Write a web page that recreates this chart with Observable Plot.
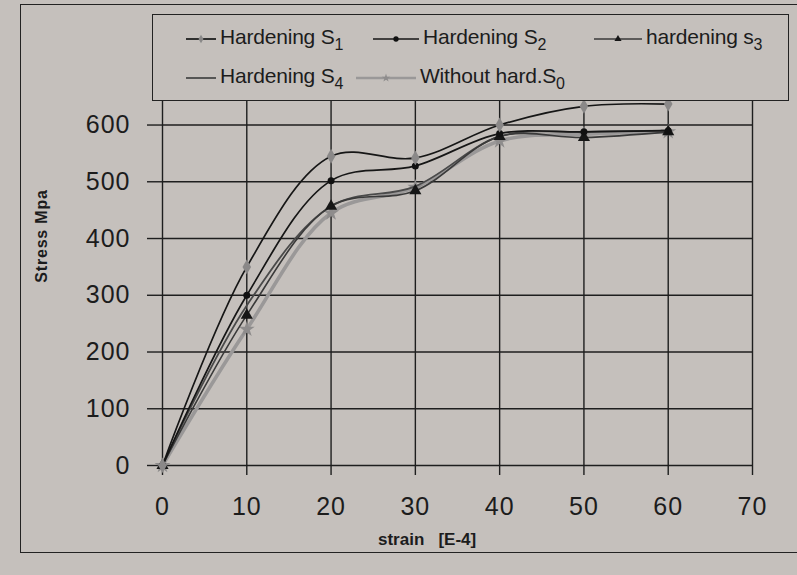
<!DOCTYPE html>
<html><head><meta charset="utf-8">
<script src="https://cdn.jsdelivr.net/npm/d3@7"></script>
<script src="https://cdn.jsdelivr.net/npm/@observablehq/plot@0.6"></script>
<style>
body{margin:0;background:#c5c0bc;}
#wrap{position:relative;width:797px;height:575px;overflow:hidden;background:#c5c0bc;font-family:"Liberation Sans",Arial,sans-serif;color:#1c1c1c}
#frame{position:absolute;left:20px;top:4px;width:800px;height:549px;border:1.5px solid #222;box-sizing:border-box}
#chart{position:absolute;left:0;top:0}
#legend{position:absolute;left:152px;top:14px;width:637px;height:87px;border:1.5px solid #222;box-sizing:border-box;background:#c5c0bc}
.item{position:absolute;height:26px;display:flex;align-items:center;font-size:21px;white-space:nowrap;letter-spacing:-0.2px}
.item svg{margin-right:4px}
.item sub{font-size:16px;vertical-align:-6px}
#ytitle{position:absolute;left:42px;top:236px;transform:translate(-50%,-50%) rotate(-90deg);font-weight:bold;font-size:16px;letter-spacing:0.8px;white-space:nowrap}
#xtitle{position:absolute;left:378px;top:530px;font-weight:bold;font-size:17px;white-space:pre}
</style></head>
<body>
<div id="wrap">
  <div id="frame"></div>
  <div id="chart"></div>
  <div id="legend"></div>
  <div id="ytitle">Stress Mpa</div>
  <div id="xtitle">strain   [E-4]</div>
</div>
<script>
// ---- data ----
const strain = [0, 10, 20, 30, 40, 50, 60];
const hardeningS1 = [0, 350, 545, 542, 600, 633, 637];
const hardeningS2 = [0, 300, 502, 528, 585, 588, 590];
const hardeningS3 = [0, 265, 457, 484, 580, 578, 588];
const hardeningS4 = [0, 282, 457, 492, 580, 588, 590];
const withoutS0   = [0, 240, 445, 490, 572, 584, 588];
const xTicks = [0, 10, 20, 30, 40, 50, 60, 70];
const yTicks = [0, 100, 200, 300, 400, 500, 600];

const seriesDefs = [
  {key: "S0", label: "Without hard.", sub: "0", values: withoutS0, stroke: "#9a9898", width: 3.6, symbol: "star", fill: "#8e8c8c", r: 5},
  {key: "S4", label: "Hardening ", sub: "4", values: hardeningS4, stroke: "#4a4a4a", width: 1.8, symbol: null, fill: null, r: 0},
  {key: "S3", label: "hardening ", sub: "3", values: hardeningS3, stroke: "#3a3a3a", width: 1.6, symbol: "triangle", fill: "#161616", r: 4.5},
  {key: "S2", label: "Hardening ", sub: "2", values: hardeningS2, stroke: "#161616", width: 1.7, symbol: "circle", fill: "#111", r: 3.5},
  {key: "S1", label: "Hardening ", sub: "1", values: hardeningS1, stroke: "#161616", width: 1.7, symbol: "diamond", fill: "#8a8888", r: 4.5}
];

const marks = [
  Plot.gridX(xTicks, {stroke: "#1e1e1e", strokeOpacity: 1, strokeWidth: 1.4}),
  Plot.gridY(yTicks, {stroke: "#1e1e1e", strokeOpacity: 1, strokeWidth: 1.4}),
  Plot.axisX(xTicks, {tickSize: 10, tickPadding: 22, label: null, stroke: "#1e1e1e", strokeWidth: 1.4}),
  Plot.axisY(yTicks, {tickSize: 15, tickPadding: 17, label: null, stroke: "#1e1e1e", strokeWidth: 1.4})
];
for (const s of seriesDefs) {
  const rows = strain.map((x, i) => ({x, y: s.values[i]}));
  marks.push(Plot.line(rows, {x: "x", y: "y", stroke: s.stroke, strokeWidth: s.width, curve: "catmull-rom"}));
  if (s.symbol) marks.push(Plot.dot(rows, {x: "x", y: "y", symbol: s.symbol, r: s.r, fill: s.fill, stroke: "none"}));
}

const chart = Plot.plot({
  width: 797,
  height: 575,
  marginLeft: 162,
  marginRight: 45,
  marginTop: 99,
  marginBottom: 110,
  x: {domain: [0, 70], ticks: xTicks},
  y: {domain: [0, 645], ticks: yTicks},
  style: {background: "transparent", fontFamily: "'Liberation Sans', Arial, sans-serif", fontSize: "25px", color: "#1c1c1c", letterSpacing: "1px"},
  marks
});
document.getElementById("chart").appendChild(chart);

// ---- legend ----
const legendLayout = {S1: [33, 11, 30], S2: [220, 11, 46], S3: [441, 11, 48], S4: [33, 50, 30], S0: [203, 50, 60]};
const legend = document.getElementById("legend");
for (const s of seriesDefs) {
  const [lx, ly, w] = legendLayout[s.key];
  const div = document.createElement("div");
  div.className = "item";
  div.style.left = lx + "px";
  div.style.top = ly + "px";
  const svg = d3.create("svg").attr("width", w).attr("height", 14);
  svg.append("line").attr("x1", 0).attr("x2", w).attr("y1", 7).attr("y2", 7)
    .attr("stroke", s.stroke).attr("stroke-width", Math.min(s.width, 2.4));
  if (s.symbol) {
    const sym = {circle: d3.symbolCircle, triangle: d3.symbolTriangle, diamond: d3.symbolDiamond, star: d3.symbolStar}[s.symbol];
    svg.append("path").attr("d", d3.symbol(sym, 22)()).attr("transform", `translate(${w / 2},7)`).attr("fill", s.fill);
  }
  div.appendChild(svg.node());
  const t = document.createElement("span");
  t.innerHTML = s.label + (s.key === "S3" ? "s" : "S") + "<sub>" + s.sub + "</sub>";
  div.appendChild(t);
  legend.appendChild(div);
}
</script>
</body></html>
